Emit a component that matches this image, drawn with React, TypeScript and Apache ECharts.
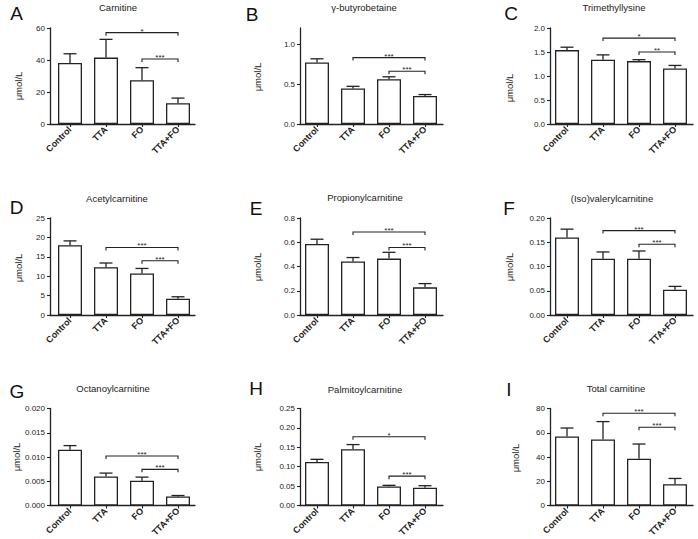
import React, { useEffect, useRef } from "react";
import * as echarts from "echarts";

// ---------- data ----------
const CATEGORIES = ["Control", "TTA", "FO", "TTA+FO"];
const PANEL_LETTERS = ["A", "B", "C", "D", "E", "F", "G", "H", "I"];
const PANEL_TITLES = [
  "Carnitine",
  "γ-butyrobetaine",
  "Trimethyllysine",
  "Acetylcarnitine",
  "Propionylcarnitine",
  "(Iso)valerylcarnitine",
  "Octanoylcarnitine",
  "Palmitoylcarnitine",
  "Total carnitine",
];
const Y_UNIT = "μmol/L";

const carnitineMean = [38.2, 41.5, 27.3, 13.0];
const carnitineErr = [5.7, 11.4, 7.9, 3.2];
const butyrobetaineMean = [0.77, 0.445, 0.56, 0.35];
const butyrobetaineErr = [0.045, 0.026, 0.03, 0.018];
const trimethyllysineMean = [1.54, 1.34, 1.31, 1.155];
const trimethyllysineErr = [0.06, 0.1, 0.03, 0.065];
const acetylcarnitineMean = [18.0, 12.3, 10.7, 4.2];
const acetylcarnitineErr = [1.1, 1.1, 1.3, 0.5];
const propionylcarnitineMean = [0.585, 0.442, 0.465, 0.228];
const propionylcarnitineErr = [0.04, 0.032, 0.052, 0.031];
const valerylcarnitineMean = [0.16, 0.116, 0.116, 0.052];
const valerylcarnitineErr = [0.017, 0.014, 0.016, 0.007];
const octanoylcarnitineMean = [0.0115, 0.006, 0.0051, 0.00186];
const octanoylcarnitineErr = [0.00085, 0.00068, 0.00075, 0.0002];
const palmitoylcarnitineMean = [0.112, 0.145, 0.049, 0.046];
const palmitoylcarnitineErr = [0.007, 0.012, 0.003, 0.005];
const totalCarnitineMean = [57.0, 54.5, 38.6, 17.6];
const totalCarnitineErr = [6.9, 14.7, 12.1, 4.7];

const MEANS = [
  carnitineMean, butyrobetaineMean, trimethyllysineMean,
  acetylcarnitineMean, propionylcarnitineMean, valerylcarnitineMean,
  octanoylcarnitineMean, palmitoylcarnitineMean, totalCarnitineMean,
];
const ERRS = [
  carnitineErr, butyrobetaineErr, trimethyllysineErr,
  acetylcarnitineErr, propionylcarnitineErr, valerylcarnitineErr,
  octanoylcarnitineErr, palmitoylcarnitineErr, totalCarnitineErr,
];

const Y_MAX = [60, 1.2, 2.0, 25, 0.8, 0.2, 0.02, 0.25, 80];
const Y_TICKS = [
  [0, 20, 40, 60],
  [0, 0.5, 1.0],
  [0, 0.5, 1.0, 1.5, 2.0],
  [0, 5, 10, 15, 20, 25],
  [0, 0.2, 0.4, 0.6, 0.8],
  [0, 0.05, 0.1, 0.15, 0.2],
  [0, 0.005, 0.01, 0.015, 0.02],
  [0, 0.05, 0.1, 0.15, 0.2, 0.25],
  [0, 20, 40, 60, 80],
];
const Y_DECIMALS = [0, 1, 1, 0, 1, 2, 3, 2, 0];

// significance brackets: [fromCategory, toCategory, yValue]
const BRACKETS = [
  [[1, 3, 57.1], [2, 3, 40.6]],
  [[1, 3, 0.83], [2, 3, 0.66]],
  [[1, 3, 1.79], [2, 3, 1.5]],
  [[1, 3, 17.4], [2, 3, 14.0]],
  [[1, 3, 0.684], [2, 3, 0.557]],
  [[1, 3, 0.174], [2, 3, 0.146]],
  [[1, 3, 0.0102], [2, 3, 0.00745]],
  [[1, 3, 0.177], [2, 3, 0.0757]],
  [[1, 3, 76.1], [2, 3, 64.5]],
];
const BRACKET_LABELS = [
  ["*", "***"],
  ["***", "***"],
  ["*", "**"],
  ["***", "***"],
  ["***", "***"],
  ["***", "***"],
  ["***", "***"],
  ["*", "***"],
  ["***", "***"],
];

// ---------- layout ----------
const COL_AXIS_LEFT = [50, 300, 550];
const COL_FIRST_CENTER = [70, 317, 567];
const COL_AXIS_RIGHT = [195, 443, 693];
const ROW_TOP = [28, 218, 408.5];
const ROW_BOTTOM = [124, 315, 505.5];
const BAND = 36;
const TITLE_X = [118, 364, 614, 117, 365, 612, 113, 365, 616];
const TITLE_Y = [7, 7, 7, 198, 197, 198, 388, 389, 388];
const LETTER_X = [16.5, 252, 511, 16.5, 256, 509, 17, 256, 509];
const LETTER_Y = [13, 14, 13.5, 207.5, 208, 208, 391, 388, 389];
const YNAME_X = [18, 257, 509, 18, 257, 509, 16, 257, 515];
const YNAME_Y = [86, 77, 88, 268, 267, 267, 457, 457, 458];

const FONT = "'Liberation Sans', Arial, Helvetica, sans-serif";
const INK = "#222";

export default function App() {
  const ref = useRef<HTMLDivElement>(null);

  useEffect(() => {
    if (!ref.current) return;
    const chart = echarts.init(ref.current, null, { renderer: "svg" });

    const grids: any[] = [];
    const xAxes: any[] = [];
    const yAxes: any[] = [];
    const series: any[] = [];
    const graphics: any[] = [];

    for (let p = 0; p < 9; p++) {
      const col = p % 3;
      const row = Math.floor(p / 3);
      const left = COL_AXIS_LEFT[col];
      const right = COL_AXIS_RIGHT[col];
      const c0 = COL_FIRST_CENTER[col];

      grids.push({
        left,
        top: ROW_TOP[row],
        width: right - left,
        height: ROW_BOTTOM[row] - ROW_TOP[row],
        containLabel: false,
        outerBoundsMode: "none",
      });

      xAxes.push({
        type: "value",
        gridIndex: p,
        min: -(c0 - left) / BAND,
        max: 3 + (right - (c0 + 3 * BAND)) / BAND,
        axisLine: { show: true, onZero: false, lineStyle: { color: INK, width: 1.3 } },
        axisTick: {
          show: true,
          customValues: [0, 1, 2, 3],
          length: 3,
          lineStyle: { color: INK, width: 1.1 },
        },
        axisLabel: {
          show: true,
          customValues: [0, 1, 2, 3],
          formatter: (v: number) => CATEGORIES[Math.round(v)] ?? "",
          rotate: 45,
          fontSize: 9,
          fontWeight: "bold",
          fontFamily: FONT,
          color: INK,
          margin: 4,
        },
        splitLine: { show: false },
      });

      yAxes.push({
        type: "value",
        gridIndex: p,
        min: 0,
        max: Y_MAX[p],
        axisLine: { show: true, onZero: false, lineStyle: { color: INK, width: 1.3 } },
        axisTick: {
          show: true,
          customValues: Y_TICKS[p],
          length: 3,
          lineStyle: { color: INK, width: 1.1 },
        },
        axisLabel: {
          show: true,
          customValues: Y_TICKS[p],
          formatter: (v: number) => v.toFixed(Y_DECIMALS[p]),
          fontSize: 8,
          fontFamily: FONT,
          color: INK,
          margin: 5,
        },
        splitLine: { show: false },
      });

      series.push({
        type: "bar",
        xAxisIndex: p,
        yAxisIndex: p,
        barWidth: 24,
        data: MEANS[p].map((m, i) => [i, m]),
        itemStyle: { color: "#fff", borderColor: INK, borderWidth: 1.3 },
        silent: true,
        z: 2,
      });

      const errs = ERRS[p];
      series.push({
        type: "custom",
        xAxisIndex: p,
        yAxisIndex: p,
        data: MEANS[p].map((m, i) => [i, m, errs[i]]),
        encode: { x: 0, y: 1 },
        clip: false,
        z: 3,
        silent: true,
        renderItem: (params: any, api: any) => {
          const x = api.value(0);
          const m = api.value(1);
          const e = api.value(2);
          const b = api.coord([x, m]);
          const t = api.coord([x, m + e]);
          const st = { stroke: INK, lineWidth: 1.3 };
          return {
            type: "group",
            children: [
              { type: "line", shape: { x1: b[0], y1: b[1], x2: t[0], y2: t[1] }, style: st },
              { type: "line", shape: { x1: t[0] - 6.5, y1: t[1], x2: t[0] + 6.5, y2: t[1] }, style: st },
            ],
          };
        },
      });

      const labels = BRACKET_LABELS[p];
      series.push({
        type: "custom",
        xAxisIndex: p,
        yAxisIndex: p,
        data: BRACKETS[p].map((b) => [b[0], b[2], b[1]]),
        encode: { x: 0, y: 1 },
        clip: false,
        z: 4,
        silent: true,
        renderItem: (params: any, api: any) => {
          const from = api.value(0);
          const y = api.value(1);
          const to = api.value(2);
          const p1 = api.coord([from, y]);
          const p2 = api.coord([to, y]);
          return {
            type: "group",
            children: [
              {
                type: "polyline",
                shape: {
                  points: [
                    [p1[0], p1[1] + 3],
                    [p1[0], p1[1]],
                    [p2[0], p2[1]],
                    [p2[0], p2[1] + 3],
                  ],
                },
                style: { stroke: INK, lineWidth: 1.1, fill: "none" },
              },
              {
                type: "text",
                x: (p1[0] + p2[0]) / 2,
                y: p1[1] - 1.5,
                style: {
                  text: labels[params.dataIndex],
                  fontSize: 8,
                  fontFamily: FONT,
                  fill: INK,
                  align: "center",
                  verticalAlign: "middle",
                },
              },
            ],
          };
        },
      });

      graphics.push({
        type: "text",
        x: TITLE_X[p],
        y: TITLE_Y[p],
        style: {
          text: PANEL_TITLES[p],
          fontSize: 9.5,
          fontFamily: FONT,
          fill: INK,
          align: "center",
          verticalAlign: "middle",
        },
      });
      graphics.push({
        type: "text",
        x: LETTER_X[p],
        y: LETTER_Y[p],
        style: {
          text: PANEL_LETTERS[p],
          fontSize: 19,
          fontFamily: FONT,
          fill: "#111",
          align: "center",
          verticalAlign: "middle",
        },
      });
      graphics.push({
        type: "text",
        x: YNAME_X[p],
        y: YNAME_Y[p],
        rotation: Math.PI / 2,
        style: {
          text: Y_UNIT,
          fontSize: 9.5,
          fontFamily: FONT,
          fill: INK,
          align: "center",
          verticalAlign: "middle",
        },
      });
    }

    chart.setOption({
      animation: false,
      backgroundColor: "#fff",
      grid: grids,
      xAxis: xAxes,
      yAxis: yAxes,
      series,
      graphic: graphics,
    });

    return () => chart.dispose();
  }, []);

  return (
    <div
      ref={ref}
      style={{ position: "fixed", left: 0, top: 0, width: 698, height: 539, background: "#fff" }}
    />
  );
}
